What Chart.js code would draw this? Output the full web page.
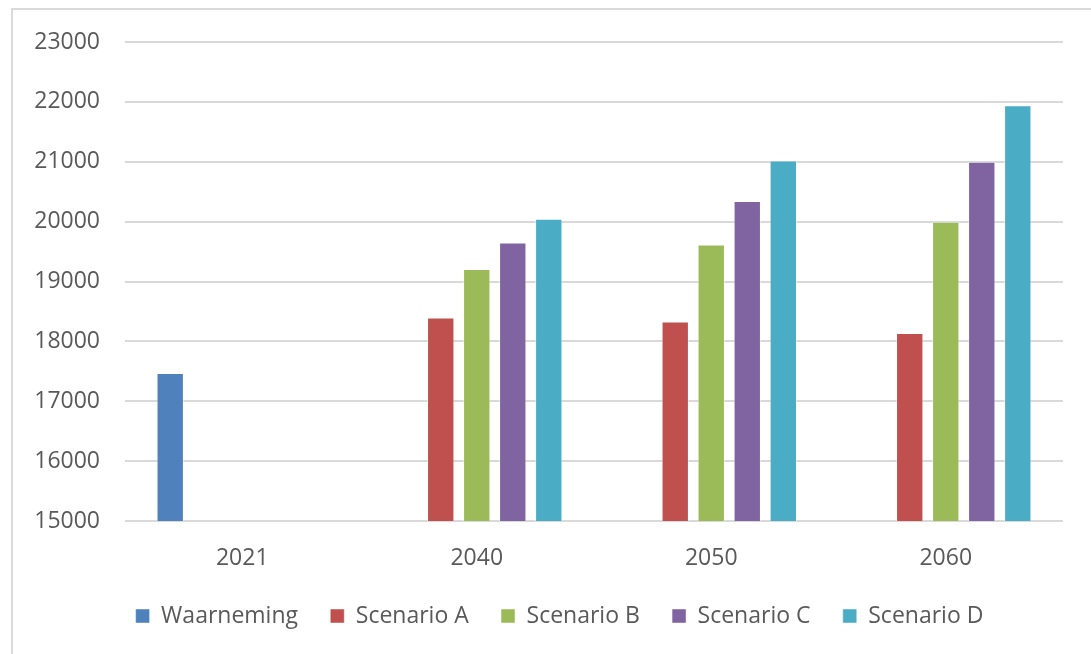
<!DOCTYPE html>
<html lang="nl">
<head>
<meta charset="utf-8">
<title>Waarneming en scenario's</title>
<script src="https://cdn.jsdelivr.net/npm/chart.js@4.4.1/dist/chart.umd.min.js"></script>
<style>
  html, body { margin: 0; padding: 0; background: #fff; overflow: hidden; }
  /* light frame, only left and top edges fall inside the window */
  .kader { position: absolute; left: 11px; top: 8px; width: 1200px; height: 800px; border: 2px solid #d9d9d9; }
  .doek { position: absolute; left: 0; top: 0; width: 1091px; height: 654px; }
</style>
</head>
<body>
<div class="kader"></div>
<div class="doek"><canvas id="grafiek"></canvas></div>
<script>
/* ---- data ---- */
const JAREN = ['2021', '2040', '2050', '2060'];
const WAARNEMING = [17470, null, null, null];
const SCENARIO_A = [null, 18400, 18330, 18140];
const SCENARIO_B = [null, 19210, 19620, 20000];
const SCENARIO_C = [null, 19650, 20345, 21000];
const SCENARIO_D = [null, 20050, 21020, 21945];

const Y_MIN = 15000, Y_MAX = 23000, Y_STAP = 1000;

/* Office 2010 palette */
const KLEUREN = {
  blauw: '#4F81BD',
  rood: '#C0504D',
  groen: '#9BBB59',
  paars: '#8064A2',
  cyaan: '#4BACC6',
  tekst: '#595959',
  raster: '#d9d9d9'
};

Chart.defaults.font.family = "'Open Sans', sans-serif";
Chart.defaults.color = KLEUREN.tekst;
Chart.defaults.animation = false;

function reeks(label, data, kleur) {
  return {
    label, data,
    backgroundColor: kleur,
    borderColor: 'rgba(255,255,255,0.45)',
    borderWidth: 1,
    categoryPercentage: 0.768,
    barPercentage: 0.76
  };
}

/* In the original the legend row sits a bit right of the canvas centre */
const legendeOpschuiven = {
  id: 'legendeOpschuiven',
  afterLayout(chart) {
    chart.legend.left += 28;
    chart.legend.right += 28;
  }
};

new Chart(document.getElementById('grafiek'), {
  type: 'bar',
  data: {
    labels: JAREN,
    datasets: [
      reeks('Waarneming', WAARNEMING, KLEUREN.blauw),
      reeks('Scenario A', SCENARIO_A, KLEUREN.rood),
      reeks('Scenario B', SCENARIO_B, KLEUREN.groen),
      reeks('Scenario C', SCENARIO_C, KLEUREN.paars),
      reeks('Scenario D', SCENARIO_D, KLEUREN.cyaan)
    ]
  },
  plugins: [legendeOpschuiven],
  options: {
    responsive: true,
    maintainAspectRatio: false,
    layout: { padding: { left: 0, right: 28, top: 42, bottom: 16.5 } },
    scales: {
      x: {
        grid: { display: false, drawTicks: false },
        border: { display: false },
        ticks: { font: { size: 23 }, padding: 24, color: KLEUREN.tekst },
        afterFit(s) { s.height = 51.25; }
      },
      y: {
        min: Y_MIN, max: Y_MAX,
        grid: { color: KLEUREN.raster, lineWidth: 2, drawTicks: false },
        border: { display: false },
        ticks: {
          stepSize: Y_STAP,
          font: { size: 23 },
          padding: 25,
          color: KLEUREN.tekst,
          callback: v => String(v)
        },
        afterFit(s) { s.width = 125; }
      }
    },
    plugins: {
      legend: {
        position: 'bottom',
        labels: {
          boxWidth: 14, boxHeight: 14,
          padding: 32.25,
          font: { size: 23 },
          color: KLEUREN.tekst
        }
      },
      tooltip: { enabled: false }
    }
  }
});
</script>
</body>
</html>
